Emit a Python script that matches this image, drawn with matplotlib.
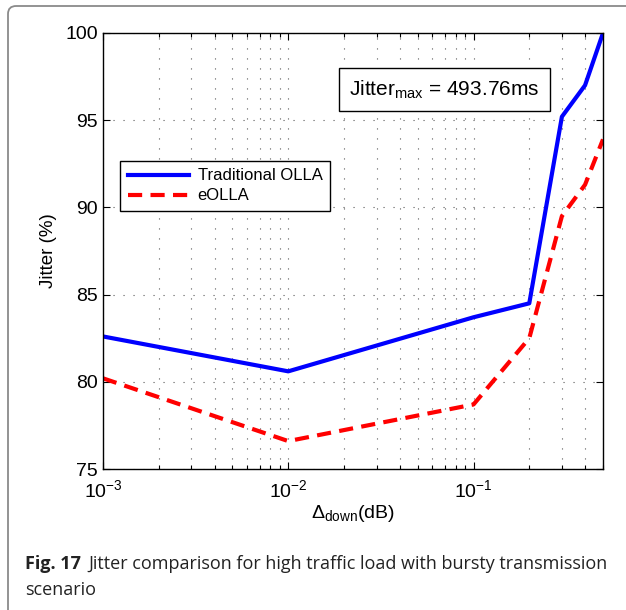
import numpy as np
import matplotlib
matplotlib.use('Agg')
import matplotlib.pyplot as plt
from matplotlib.patches import FancyBboxPatch

# data
delta_down = [0.001, 0.01, 0.1, 0.2, 0.3, 0.4, 0.5]
jitter_olla = [82.6, 80.6, 83.7, 84.5, 95.2, 97.0, 100.0]
jitter_eolla = [80.2, 76.6, 78.7, 82.5, 89.5, 91.3, 93.9]
labels = ['Traditional OLLA', 'eOLLA']
yticks = [75, 80, 85, 90, 95, 100]

plt.rcParams['font.family'] = ['Liberation Sans', 'DejaVu Sans']
plt.rcParams['mathtext.fontset'] = 'custom'
plt.rcParams['mathtext.rm'] = 'Liberation Sans'
plt.rcParams['mathtext.it'] = 'Liberation Sans'

W, H = 626, 610
fig = plt.figure(figsize=(W / 100, H / 100), dpi=100)

# frame around figure + caption
frame = FancyBboxPatch((8 / W, -20 / H), 660 / W, (H - 6 + 20) / H,
                       boxstyle='round,pad=0,rounding_size=0.013',
                       transform=fig.transFigure, fill=False,
                       edgecolor='#8a8a8a', linewidth=1.3, clip_on=False)
fig.patches.append(frame)

ax = fig.add_axes([103 / W, 1 - 469 / H, 500 / W, 436 / H])

ax.plot(delta_down, jitter_olla, color='#0000ff', lw=3, label=labels[0])
ax.plot(delta_down, jitter_eolla, color='#ff0000', lw=3,
        linestyle=(0, (3.4, 2.0)), label=labels[1])

ax.set_xscale('log')
ax.set_xlim(0.001, 0.5)
ax.set_ylim(75, 100)
ax.set_yticks(yticks)
ax.tick_params(which='both', direction='in', top=True, right=True,
               labelsize=14, width=0.8)
ax.tick_params(which='major', length=5)
ax.tick_params(which='minor', length=3)
ax.tick_params(axis='x', pad=7)
for s in ax.spines.values():
    s.set_linewidth(1.0)

ax.grid(True, which='major', color='0.35', linestyle=(0, (1, 8)), lw=0.8)
ax.grid(True, which='minor', axis='x', color='0.35', linestyle=(0, (1, 8)), lw=0.8)

ax.set_ylabel('Jitter (%)', fontsize=13.5, labelpad=6)
ax.set_xlabel(r'$\Delta_{\mathrm{down}}$(dB)', fontsize=14, labelpad=2)

leg = ax.legend(loc='upper left', bbox_to_anchor=(17 / 500, 1 - 128 / 436),
                fontsize=12, frameon=True, fancybox=False, edgecolor='black',
                framealpha=1, handlelength=3.7, borderpad=0.45,
                labelspacing=0.3, handletextpad=0.5, borderaxespad=0)
leg.get_frame().set_linewidth(1.0)

ax.text(0.492, 0.87, r'Jitter$_{\mathrm{max}}$ = 493.76ms', transform=ax.transAxes,
        fontsize=15, ha='left', va='center',
        bbox=dict(boxstyle='square,pad=0.5', facecolor='white',
                  edgecolor='black', linewidth=1.0))

cap_font = ['Open Sans', 'DejaVu Sans']
fig.text(25 / W, 1 - 564 / H, 'Fig. 17', fontsize=13, fontweight='bold',
         family=cap_font, va='center', ha='left', color='#222222')
fig.text(88 / W, 1 - 564 / H,
         'Jitter comparison for high traffic load with bursty transmission',
         fontsize=13, family=cap_font, va='center', ha='left', color='#222222')
fig.text(25 / W, 1 - 590 / H, 'scenario', fontsize=13, family=cap_font,
         va='center', ha='left', color='#222222')

fig.savefig('out.png', dpi=100)
